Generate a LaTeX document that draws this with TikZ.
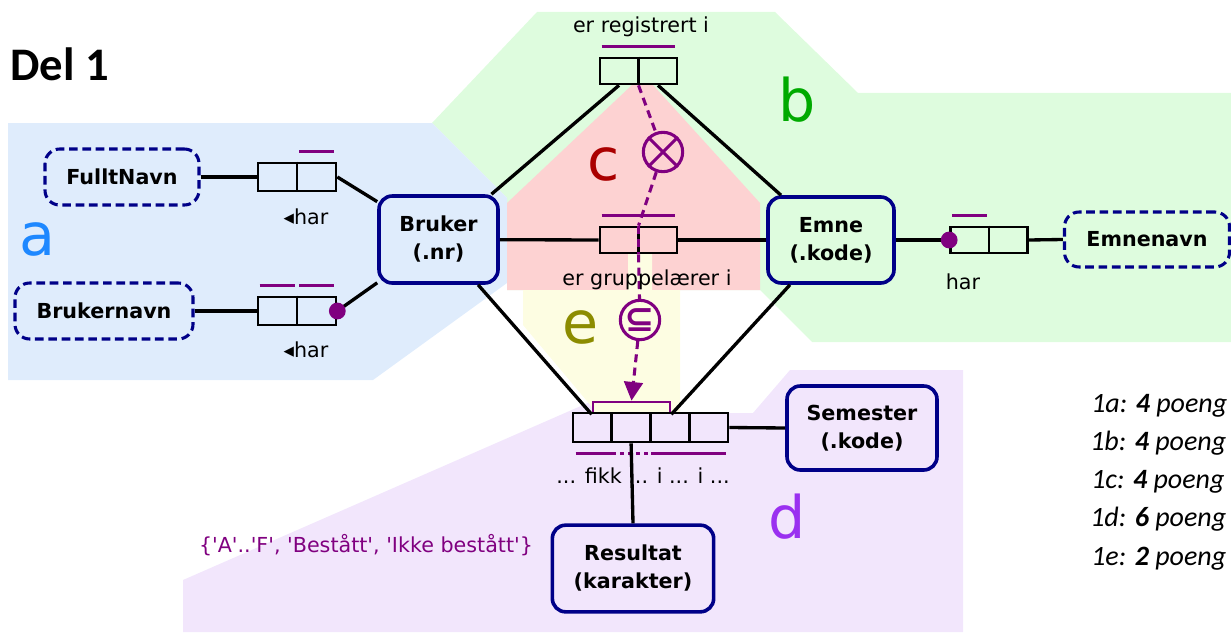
\documentclass[tikz,border=0pt]{standalone}
\usepackage{fontspec}
\setmainfont{DejaVu Sans}
\newfontfamily\carl{Carlito}
\newfontfamily\rawsans[Ligatures=TeXOff]{DejaVu Sans}
\usetikzlibrary{arrows.meta,calc}
\definecolor{regA}{HTML}{DFECFC}
\definecolor{regB}{HTML}{DEFCDE}
\definecolor{regC}{HTML}{FDD2D2}
\definecolor{regD}{HTML}{F2E6FC}
\definecolor{regE}{HTML}{FDFDE2}
\definecolor{navyc}{HTML}{000088}
\definecolor{purp}{HTML}{800080}
\definecolor{colA}{HTML}{1E88FF}
\definecolor{colB}{HTML}{00AA00}
\definecolor{colC}{HTML}{AA0000}
\definecolor{colD}{HTML}{9A30F0}
\definecolor{colE}{HTML}{8C8C00}
\begin{document}
\begin{tikzpicture}[x=0.75pt,y=-0.75pt,
  entity/.style={draw=navyc, line width=2.7pt, rounded corners=10pt, align=center, inner sep=0pt,
    font=\fontsize{15.5}{21}\selectfont\bfseries},
  value/.style={draw=navyc, line width=2.3pt, dash pattern=on 6.5pt off 3.5pt, rounded corners=11pt,
    align=center, inner sep=0pt, font=\fontsize{15.5}{21}\selectfont\bfseries},
  rolebox/.style={draw=black, line width=2pt, minimum width=57.75pt, minimum height=19.5pt, inner sep=0pt},
  cell/.style={draw=black, line width=2pt, minimum width=29pt, minimum height=21.75pt, inner sep=0pt},
  conn/.style={line width=2.5pt},
  bar/.style={draw=purp, line width=2.3pt},
  lbl/.style={font=\fontsize{15.5}{19}\selectfont, inner sep=0pt},
  letter/.style={font=\fontsize{44}{44}\selectfont, anchor=base, inner sep=0pt},
  cons/.style={draw=purp, line width=2.3pt, dash pattern=on 6pt off 4pt},
  pts/.style={anchor=base west, inner sep=0pt, font=\carl\fontsize{21}{24}\selectfont\itshape}]
\useasboundingbox (0,0) rectangle (1231,635);
% regions
\fill[regB] (537,12) -- (775,12) -- (858,93) -- (1231,93) -- (1231,342) -- (812,342) -- (760,290) -- (507,290) -- (507,198) -- (432,123) -- cycle;
\fill[regA] (8,123) -- (432,123) -- (507,198) -- (507,283) -- (373,380) -- (8,380) -- cycle;
\fill[regC] (632,85) -- (653,85) -- (760,203) -- (760,290) -- (507,290) -- (507,203) -- cycle;
\fill[regD] (183,632) -- (183,580) -- (590,402) -- (680,402) -- (680,413) -- (753,413) -- (790,370) -- (963,370) -- (963,632) -- cycle;
\fill[regE] (523,290) -- (628,290) -- (628,253) -- (652,253) -- (652,290) -- (680,290) -- (680,413) -- (597,413) -- (523,325) -- cycle;
% letters
\node[letter, text=colA] at (37,255) {a};
\node[letter, text=colB] at (797,122) {b};
\node[letter, text=colC] at (604,180) {c};
\node[letter, text=colD] at (787,538) {d};
\node[letter, text=colE] at (581,343) {e};
% title
\node[anchor=base west, inner sep=0pt, font=\carl\bfseries\fontsize{35}{40}\selectfont] (title) at (10,80) {Del 1};
% points
\node[pts] (p1) at (1091,412) {1a: \textbf{4} poeng};
\node[pts] (p2) at (1090,450) {1b: \textbf{4} poeng};
\node[pts] (p3) at (1091,488) {1c: \textbf{4} poeng};
\node[pts] (p4) at (1090,526) {1d: \textbf{6} poeng};
\node[pts] (p5) at (1091,565) {1e: \textbf{2} poeng};
% entities and values
\node[entity, minimum width=89.25pt, minimum height=65.25pt] (bruker) at (438.5,239.5) {Bruker\\(.nr)};
\node[entity, minimum width=94.5pt, minimum height=64.5pt] (emne) at (831,240) {Emne\\(.kode)};
\node[entity, minimum width=112.5pt, minimum height=63pt] (sem) at (862,428) {Semester\\(.kode)};
\node[entity, minimum width=121pt, minimum height=65pt] (res) at (633,568.5) {Resultat\\(karakter)};
\node[value, minimum width=115.5pt, minimum height=42pt] (fn) at (122,177) {FulltNavn};
\node[value, minimum width=133.5pt, minimum height=42pt] (bn) at (104,311) {Brukernavn};
\node[value, minimum width=123.75pt, minimum height=41.25pt] (en) at (1147,239.5) {Emnenavn};
% role boxes
\node[rolebox, minimum width=58.5pt, minimum height=21pt] (fb) at (297,177) {};
\node[rolebox, minimum width=58.5pt, minimum height=21pt] (bb) at (297,311) {};
\node[rolebox] (rtop) at (638.5,71) {};
\node[rolebox] (mid) at (638.5,240) {};
\node[rolebox] (eb) at (989,240) {};
\foreach \b in {fb,bb,rtop,mid,eb} \draw[line width=2pt] (\b.north) -- (\b.south);
% subset target bar on quaternary
\node[draw=purp, line width=2pt, fill=regE, minimum width=57.75pt, minimum height=8.25pt, inner sep=0pt] (prect) at (631.5,407.5) {};
\node[cell] (q1) at (592.4,427.5) {};
\node[cell] (q2) at (631.1,427.5) {};
\node[cell] (q3) at (669.9,427.5) {};
\node[cell] (q4) at (708.6,427.5) {};
% uniqueness bars
\draw[bar] ($(fb.north)+(2,-10)$) -- ($(fb.north east)+(-3,-10)$);
\draw[bar] ($(bb.north west)+(3,-10)$) -- ($(bb.north)+(-2,-10)$);
\draw[bar] ($(bb.north)+(2,-10)$) -- ($(bb.north east)+(-3,-10)$);
\draw[bar] ($(rtop.north west)+(3,-10)$) -- ($(rtop.north east)+(-3,-10)$);
\draw[bar] ($(mid.north west)+(3,-10)$) -- ($(mid.north east)+(-3,-10)$);
\draw[bar] ($(eb.north west)+(3,-10)$) -- ($(eb.north)+(-2,-10)$);
\draw[bar] ($(q1.south west)+(4,10)$) -- ($(q1.south east)+(-1,10)$);
\draw[bar, dash pattern=on 3pt off 3pt] ($(q2.south west)+(2,10)$) -- ($(q2.south east)+(-4,10)$);
\draw[bar] ($(q3.south west)+(2,10)$) -- ($(q4.south east)+(-3,10)$);
% connectors
\draw[conn] (fn.east) -- (fb.west);
\draw[conn] (fb.east) -- (bruker);
\draw[conn] (bn.east) -- (bb.west);
\draw[conn] (bb.east) -- (bruker);
\draw[conn] ($(rtop.south)+(-19.5,0)$) -- (bruker);
\draw[conn] ($(rtop.south)+(19.5,0)$) -- (emne);
\draw[conn] (bruker) -- (mid.west);
\draw[conn] (mid.east) -- (emne);
\draw[conn] (bruker) -- (prect.south west);
\draw[conn] (emne) -- (prect.south east);
\draw[conn] (q4.east) -- (sem.west);
\draw[conn] (q2.south) -- (res.north);
\draw[conn] (emne.east) -- (eb.west);
\draw[conn] (eb.east) -- (en.west);
\fill[purp] (bb.east) circle (6.3pt);
\fill[purp] (eb.west) circle (6.3pt);
% constraints
\node[circle, draw=purp, line width=2.3pt, minimum size=29.5pt, inner sep=0pt] (excl) at (663,152) {};
\draw[purp, line width=2.3pt] (excl.north west) -- (excl.south east) (excl.north east) -- (excl.south west);
\node[circle, draw=purp, line width=2.3pt, minimum size=29.5pt, inner sep=0pt, text=purp, font=\fontsize{27}{27}\selectfont\bfseries] (subs) at (640,320) {\raisebox{-1pt}{⊆}};
\draw[cons] (rtop.south) -- (excl);
\draw[cons] (excl) -- (mid.north);
\draw[cons] (mid.north) -- (mid.south);
\draw[cons] (mid.south) -- (subs);
\draw[cons, -{Triangle[length=14pt,width=14pt]}] (subs) -- (prect.north);
% labels
\node[lbl] (lreg) at (641,27) {er registrert i};
\node[lbl] (lgrp) at (647,280) {er gruppelærer i};
\node[lbl] (lhar1) at (306,217) {◂har};
\node[lbl] (lhar2) at (306,350) {◂har};
\node[lbl] (lhar3) at (963,282) {har};
\node[lbl] (lfikk) at (643,476) {... fikk ... i ... i ...};
\node[lbl, text=purp] (lval) at (366,545) {\rawsans\{'A'..'F', 'Bestått', 'Ikke bestått'\}};
\end{tikzpicture}
\end{document}
